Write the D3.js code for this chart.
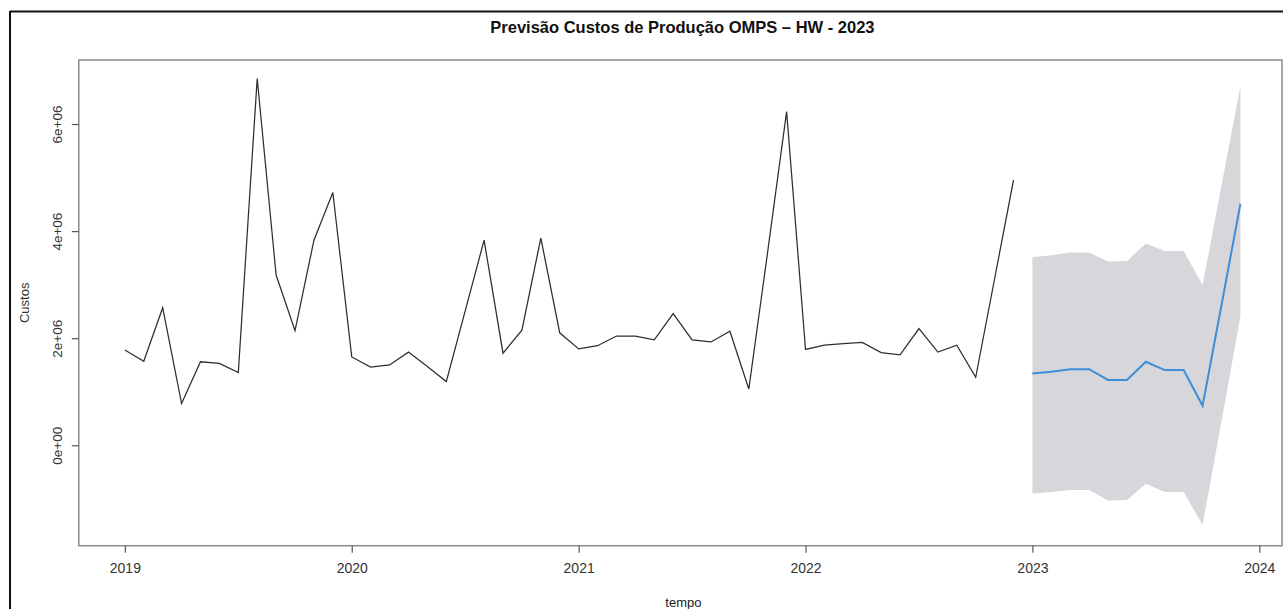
<!DOCTYPE html>
<html>
<head>
<meta charset="utf-8">
<script src="https://cdn.jsdelivr.net/npm/d3@7"></script>
<style>
  html, body { margin: 0; padding: 0; background: #fff; }
  svg { display: block; font-family: "Liberation Sans", Arial, sans-serif; }
</style>
</head>
<body>
<svg id="chart" width="1283" height="609"></svg>
<script>
// ---- data ----
const chartTitle = "Previsão Custos de Produção OMPS – HW - 2023";
const xLabel = "tempo";
const yLabel = "Custos";
const startYear = 2019;
// monthly costs Jan 2019 .. Dec 2022
const historyValues = [
  1780000, 1570000, 2570000, 780000, 1560000, 1530000, 1360000, 6850000, 3180000, 2140000, 3830000, 4720000,
  1650000, 1460000, 1500000, 1740000, 1470000, 1190000, 2510000, 3830000, 1720000, 2150000, 3870000, 2100000,
  1800000, 1860000, 2040000, 2040000, 1970000, 2460000, 1970000, 1930000, 2130000, 1050000, 3620000, 6230000,
  1790000, 1870000, 1900000, 1920000, 1730000, 1690000, 2180000, 1740000, 1870000, 1270000, 3110000, 4950000
];
const forecastStartYear = 2023;
// Holt-Winters forecast Jan 2023 .. Dec 2023
const forecastMean  = [1340000, 1375000, 1420000, 1420000, 1220000, 1220000, 1560000, 1405000, 1405000, 740000, 2620000, 4510000];
const forecastUpper = [3510000, 3550000, 3600000, 3600000, 3430000, 3440000, 3770000, 3630000, 3630000, 2990000, 4850000, 6700000];
const forecastLower = [-900000, -870000, -835000, -835000, -1030000, -1020000, -720000, -870000, -870000, -1490000, 450000, 2400000];
const xTicks = [2019, 2020, 2021, 2022, 2023, 2024];
const yTicks = [0, 2000000, 4000000, 6000000];
const yTickLabels = ["0e+00", "2e+06", "4e+06", "6e+06"];

// ---- layout ----
const svg = d3.select("#chart");
const plot = { left: 78.8, right: 1282, top: 60, bottom: 545.7 };

const x = d3.scaleLinear().domain([2018.797, 2024.10]).range([plot.left, plot.right]);
const y = d3.scaleLinear().domain([-1875000, 7195000]).range([plot.bottom, plot.top]);

const hist = historyValues.map((v, i) => ({ t: startYear + i / 12, v }));
const fc = forecastMean.map((v, i) => ({ t: forecastStartYear + i / 12, v, lo: forecastLower[i], hi: forecastUpper[i] }));

// outer frame (black)
svg.append("line").attr("x1", 10).attr("x2", 1283).attr("y1", 11.5).attr("y2", 11.5)
  .attr("stroke", "#111").attr("stroke-width", 2);
svg.append("line").attr("x1", 10).attr("x2", 10).attr("y1", 11).attr("y2", 609)
  .attr("stroke", "#111").attr("stroke-width", 2);

// band
svg.append("path").datum(fc)
  .attr("d", d3.area().x(d => x(d.t)).y0(d => y(d.lo)).y1(d => y(d.hi)))
  .attr("fill", "#d7d7db");

// history line
svg.append("path").datum(hist)
  .attr("d", d3.line().x(d => x(d.t)).y(d => y(d.v)))
  .attr("fill", "none").attr("stroke", "#2e2e2e").attr("stroke-width", 1.25)
  .attr("stroke-linejoin", "miter");

// forecast line
svg.append("path").datum(fc)
  .attr("d", d3.line().x(d => x(d.t)).y(d => y(d.v)))
  .attr("fill", "none").attr("stroke", "#3c8fd8").attr("stroke-width", 2);

// plot box
svg.append("rect")
  .attr("x", plot.left).attr("y", plot.top)
  .attr("width", plot.right - plot.left).attr("height", plot.bottom - plot.top)
  .attr("fill", "none").attr("stroke", "#8a8a8a").attr("stroke-width", 1.5);

// x axis
const xAxis = d3.axisBottom(x).tickValues(xTicks).tickFormat(d3.format("d")).tickSize(7).tickPadding(10);
const gx = svg.append("g").attr("transform", `translate(0,${plot.bottom})`).call(xAxis);
gx.select(".domain").remove();
gx.selectAll("line").attr("stroke", "#555").attr("stroke-width", 1.2);
gx.selectAll("text").attr("fill", "#333").style("font-size", "14px")
  .style("font-family", '"Liberation Sans", Arial, sans-serif');

// y axis
const yAxis = d3.axisLeft(y).tickValues(yTicks).tickFormat((d, i) => yTickLabels[i]).tickSize(7).tickPadding(0);
const gy = svg.append("g").attr("transform", `translate(${plot.left},0)`).call(yAxis);
gy.select(".domain").remove();
gy.selectAll("line").attr("stroke", "#555").attr("stroke-width", 1.2);
gy.selectAll("text")
  .attr("x", 62 - plot.left).attr("dy", 0)
  .attr("text-anchor", "middle")
  .attr("transform", function () { return `rotate(-90, ${62 - plot.left}, 0)`; })
  .attr("fill", "#333").style("font-size", "13.5px")
  .style("font-family", '"Liberation Sans", Arial, sans-serif');

// title
svg.append("text").attr("x", (plot.left + plot.right) / 2 + 2).attr("y", 33)
  .attr("text-anchor", "middle").attr("font-weight", "bold").attr("font-size", "16.5px")
  .attr("fill", "#111").text(chartTitle);

// axis labels
svg.append("text").attr("x", (plot.left + plot.right) / 2 + 3).attr("y", 607)
  .attr("text-anchor", "middle").attr("font-size", "13px").attr("fill", "#222").text(xLabel);
svg.append("text").attr("transform", `translate(29,${(plot.top + plot.bottom) / 2}) rotate(-90)`)
  .attr("text-anchor", "middle").attr("font-size", "13px").attr("fill", "#333").text(yLabel);
</script>
</body>
</html>
